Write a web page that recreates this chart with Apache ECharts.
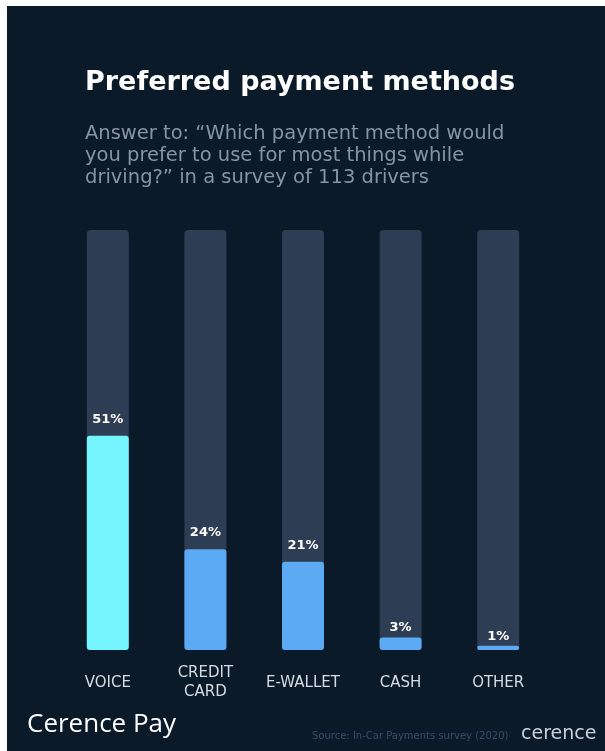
<!DOCTYPE html>
<html>
<head>
<meta charset="utf-8">
<script src="https://cdn.jsdelivr.net/npm/echarts@6/dist/echarts.min.js"></script>
<style>
  html, body { margin: 0; padding: 0; background: #fff; }
  #box { width: 605px; height: 751px; }
</style>
</head>
<body>
<div id="box"></div>
<script>
const aCategories = ['VOICE', 'CREDIT\nCARD', 'E-WALLET', 'CASH', 'OTHER'];
const aShare = [51, 24, 21, 3, 1]; // 百分比
const aTrack = [100, 100, 100, 100, 100];
const aBarColors = ['#74f4fc', '#5ca9f4', '#5ca9f4', '#5ca9f4', '#5ca9f4'];

const sFont = '"DejaVu Sans", "Open Sans", sans-serif';

const myChart = echarts.init(document.getElementById('box'));

const option = {
    backgroundColor: '#ffffff',
    animation: false,
    graphic: [{
        type: 'rect',
        z: -10,
        shape: { x: 7, y: 6, width: 598, height: 745 },
        style: { fill: '#0a1a29' },
    }],
    title: [{
        text: 'Preferred payment methods',
        left: 80, top: 64,
        textStyle: { color: '#ffffff', fontSize: 27, fontWeight: 'bold', fontFamily: sFont },
    }, {
        text: 'Answer to: \u201cWhich payment method would\nyou prefer to use for most things while\ndriving?\u201d in a survey of 113 drivers',
        left: 80, top: 118,
        textStyle: { color: '#8794a2', fontSize: 19.5, fontWeight: 'normal', lineHeight: 22, fontFamily: sFont },
    }, {
        text: 'Cerence Pay',
        left: 22, top: 707,
        textStyle: { color: '#ffffff', fontSize: 26, fontWeight: 'normal', fontFamily: '"Open Sans", sans-serif' },
    }, {
        text: 'Source: In-Car Payments survey (2020)',
        left: 307, top: 726,
        textStyle: { color: '#3e4d5e', fontSize: 10, fontWeight: 'normal', fontFamily: sFont },
    }, {
        text: 'cerence',
        left: 516, top: 720,
        textStyle: { color: '#c9d1d9', fontSize: 19, fontWeight: 'normal', fontFamily: sFont },
    }],
    grid: { left: 59, right: 58, top: 230, bottom: 101 },
    xAxis: {
        type: 'category',
        data: aCategories,
        axisLine: { show: false },
        axisTick: { show: false },
        axisLabel: {
            color: '#d6dce3',
            fontSize: 15,
            lineHeight: 19,
            verticalAlign: 'middle',
            margin: 33,
            fontFamily: sFont,
        },
    },
    yAxis: {
        type: 'value',
        min: 0, max: 100,
        show: false,
        splitLine: { show: false },
    },
    series: [{
        name: 'track',
        type: 'bar',
        data: aTrack,
        barWidth: 42,
        barGap: '-100%',
        silent: true,
        itemStyle: { color: '#2d3d53', borderRadius: 4 },
    }, {
        name: 'share',
        type: 'bar',
        barWidth: 42,
        data: aShare.map((v, i) => ({
            value: v,
            itemStyle: { color: aBarColors[i] },
            // 小柱子的标签更贴近
            label: v < 5 ? { distance: 3 } : undefined,
        })),
        itemStyle: { borderRadius: 3 },
        label: {
            show: true,
            position: 'top',
            distance: 10,
            formatter: '{c}%',
            color: '#ffffff',
            fontSize: 13,
            fontWeight: 'bold',
            fontFamily: sFont,
        },
    }],
};
myChart.setOption(option);
</script>
</body>
</html>
